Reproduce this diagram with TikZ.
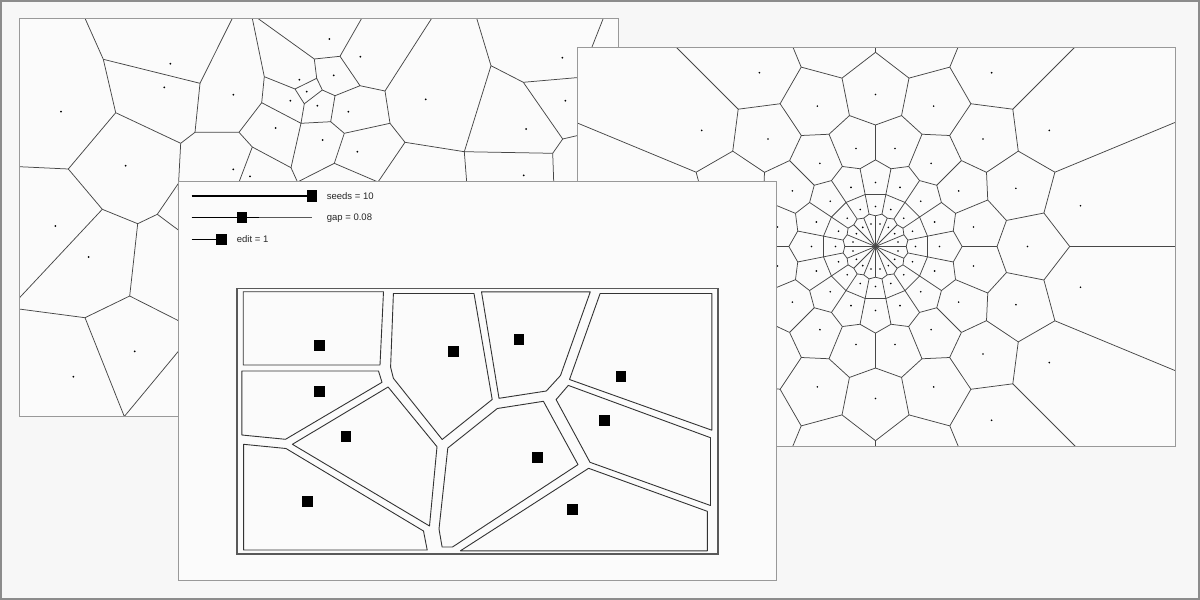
\documentclass[tikz,border=0pt]{standalone}
\usepackage{fontspec}
\setmainfont{Liberation Sans}
\tikzset{
  panel/.style={draw=black!40, fill=black!1.5, line width=0.9pt},
  vedge/.style={draw=black!72, line width=0.75pt, line join=round},
  cell/.style={draw=black!80, line width=0.9pt, line join=round},
  seedbox/.style={fill=black, inner sep=0pt, minimum width=10.5pt, minimum height=11pt},
  knob/.style={fill=black, inner sep=0pt, minimum width=10.5pt, minimum height=11.5pt},
  track/.style={draw=black, line width=1.1pt},
  slabel/.style={anchor=west, inner sep=0pt, text=black!85, font=\fontsize{9.5}{11}\selectfont}
}
\begin{document}
\begin{tikzpicture}[x=1pt, y=-1pt]
  \useasboundingbox (0,0) rectangle (1200,600);
  \fill[black!3] (0,0) rectangle (1200,600);
  \draw[black!45, line width=2pt] (1,1) rectangle (1199,599);

  % back panel, random seeds
  \path[panel] (19.5,18.5) rectangle (618,416.5);
  \begin{scope}
    \clip (19.5,18.5) rectangle (618,416.5);
    \draw[vedge] (85,18.3) -- (103.3,59.3) -- (200,83.3) -- (232.3,18.3);
    \draw[vedge] (103.3,59.3) -- (115.7,112.7) -- (180.7,143.3) -- (195,132.3) -- (200,83.3);
    \draw[vedge] (115.7,112.7) -- (68.3,169) -- (19.3,166.7);
    \draw[vedge] (68.3,169) -- (102.3,209.3) -- (19,298.3);
    \draw[vedge] (180.7,143.3) -- (178.2,190);
    \draw[vedge] (195,132.3) -- (239,132.3) -- (261.7,102.7) -- (264.3,76.7) -- (252.3,18.3);
    \draw[vedge] (239,132.3) -- (252.3,147) -- (236,190);
    \draw[vedge] (252.3,147) -- (291,167.7) -- (297.5,182);
    \draw[vedge] (264.3,76.7) -- (295,89) -- (316.7,78.3) -- (322.3,90) -- (304.3,103.8) -- (295,89);
    \draw[vedge] (261.7,102.7) -- (301,123.3) -- (291,167.7);
    \draw[vedge] (304.3,103.8) -- (301,123.3) -- (330.7,121.7) -- (335,95.7) -- (322.3,90);
    \draw[vedge] (257.7,18.3) -- (314.3,59) -- (316.7,78.3);
    \draw[vedge] (314.3,59) -- (340,56.3) -- (361.7,18.3);
    \draw[vedge] (340,56.3) -- (360,85.7) -- (335,95.7);
    \draw[vedge] (360,85.7) -- (385,91) -- (431.7,18.3);
    \draw[vedge] (385,91) -- (390,123.3) -- (405,142.3) -- (464.3,151.7) -- (491,65.7) -- (476.7,18.3);
    \draw[vedge] (330.7,121.7) -- (344.3,133.3) -- (390,123.3);
    \draw[vedge] (344.3,133.3) -- (334.3,163.3) -- (297.5,182);
    \draw[vedge] (334.3,163.3) -- (378,182) -- (405,142.3);
    \draw[vedge] (491,65.7) -- (523.3,82.3) -- (590,76.5);
    \draw[vedge] (523.3,82.3) -- (562.7,139) -- (590,132.6);
    \draw[vedge] (562.7,139) -- (552.7,153.3) -- (464.3,151.7) -- (467.3,190);
    \draw[vedge] (552.7,153.3) -- (554,190);
    \draw[vedge] (603.3,18.3) -- (590,52);
    \draw[vedge] (102.3,209.3) -- (137.7,223.7) -- (157.3,214.3) -- (179.5,181.8);
    \draw[vedge] (157.3,214.3) -- (185,235);
    \draw[vedge] (137.7,223.7) -- (129.7,296) -- (85,317.7) -- (19,309);
    \draw[vedge] (129.7,296) -- (185,324);
    \draw[vedge] (85,317.7) -- (124.3,416.5) -- (185,343.3);
    \foreach \x/\y in {170.3/63.7, 164.3/87.3, 61/111.7, 233.3/94.7, 299.3/79.7, 290.3/100.7,
        275.7/128, 125.7/165.7, 233.3/169.3, 250/176.3, 329.3/39, 360.3/56.7, 333.7/75.3,
        306.7/91.7, 317.3/105.7, 348.3/111.7, 425.7/99.3, 322.7/140, 357.3/151.7, 562.3/57.7,
        565.3/100.7, 526/129, 523.7/175.3, 55.3/226, 88.7/257, 134.7/351.3, 73.3/376.7}
      \fill (\x,\y) circle (1);
  \end{scope}
  \draw[black!40, line width=0.9pt] (19.5,18.5) rectangle (618,416.5);

  % right panel, seeds on rings
  \path[panel] (577,47) rectangle (1175,446);
  \begin{scope}
    \clip (577,47) rectangle (1175,446);
    \begin{scope}[shift={(875.5,246.5)}]
      \foreach \a in {0,22.5,...,337.5} {
        \draw[vedge] (\a:0) -- (\a:30.7) -- ({\a+11.25}:33) -- ({\a+22.5}:30.7);
        \draw[vedge] ({\a+11.25}:33) -- ({\a+11.25}:79.29);
        \draw[vedge] ({\a+11.25}:53.02) -- ({\a+33.75}:53.02);
        \draw[vedge] (\a:121.51) -- (\a:86.62) -- ({\a+11.25}:79.29) -- ({\a+22.5}:86.62);
        \draw[vedge] (\a:121.51) -- ({\a+11.25}:133.5) -- ({\a+22.5}:121.51);
        \draw[vedge] ({\a+11.25}:133.5) -- ({\a+11.25}:171.7);
        \draw[vedge] (\a:420) -- (\a:194.18) -- ({\a+11.25}:171.7) -- ({\a+22.5}:194.18);
        \fill ({\a+11.25}:23) circle (0.9);
        \fill (\a:40) circle (0.9);
        \fill (\a:64) circle (0.9);
        \fill ({\a+11.25}:100) circle (0.9);
        \fill (\a:152) circle (0.9);
        \fill ({\a+11.25}:209) circle (0.9);
      }
    \end{scope}
  \end{scope}
  \draw[black!40, line width=0.9pt] (577,47) rectangle (1175,446);

  % front panel, sliders and gapped cells
  \path[panel] (178,181) rectangle (776,580);
  \coordinate (seedsstart) at (191.7,196);
  \coordinate (gapstart) at (191.7,217.7);
  \coordinate (gapend) at (311.7,217.7);
  \coordinate (gapfill) at (259,217.7);
  \coordinate (editstart) at (191.7,239.3);
  \draw[track] (seedsstart) -- (312,196);
  \draw[black!65, line width=0.9pt] (gapstart) -- (gapend);
  \draw[track] (gapstart) -- (gapfill);
  \draw[track] (editstart) -- (221.7,239.3);
  \node[knob] (seedsknob) at (312,196) {};
  \node[knob] (gapknob) at (242,217.7) {};
  \node[knob] (editknob) at (221.7,239.3) {};
  \node[slabel] (seedslabel) at (326.7,196) {seeds = 10};
  \node[slabel] (gaplabel) at (326.7,217.7) {gap = 0.08};
  \node[slabel] (editlabel) at (236.7,239.3) {edit = 1};

  \draw[black!65, line width=1.6pt] (236.8,288.3) rectangle (717.8,553.7);
  \draw[cell] (243.2,291.7) -- (383.5,291.7) -- (380,365) -- (243.2,365) -- cycle;
  \draw[cell] (241.9,371) -- (378.5,371) -- (382,382.3) -- (285.5,439.3) -- (241.9,435) -- cycle;
  \draw[cell] (388.1,387) -- (437,446.7) -- (429.5,526) -- (292.4,444.3) -- cycle;
  \draw[cell] (243.6,444.3) -- (286,448.5) -- (423.5,531) -- (427.2,550) -- (243.6,550) -- cycle;
  \draw[cell] (393.4,293.5) -- (474,293.5) -- (492.2,399.5) -- (442.2,439.5) -- (393.4,378.3) -- (390.6,367.2) -- cycle;
  \draw[cell] (481.5,291.8) -- (590.3,291.8) -- (560.5,375.5) -- (546.3,391) -- (499,398.3) -- cycle;
  \draw[cell] (600.1,293.5) -- (711.8,293.5) -- (711.8,430.2) -- (569.5,379.5) -- cycle;
  \draw[cell] (568.3,385.4) -- (710.5,437.7) -- (710.5,505.5) -- (590,462.3) -- (556.1,399.6) -- cycle;
  \draw[cell] (447.8,448) -- (497.3,408.5) -- (543.4,401.3) -- (578,464.6) -- (452.5,547) -- (442.1,547) -- (439,529) -- cycle;
  \draw[cell] (588.6,468.3) -- (707.3,511.3) -- (707.3,550.8) -- (460.4,550.8) -- cycle;
  \foreach \x/\y [count=\i] in {319.3/345, 319.3/391.7, 346/436.7, 307.7/501.7, 453.7/351,
      519/339.3, 621/376.7, 604.3/420.7, 537.7/457, 572.3/509}
    \node[seedbox] (seed\i) at (\x,\y) {};
\end{tikzpicture}
\end{document}
